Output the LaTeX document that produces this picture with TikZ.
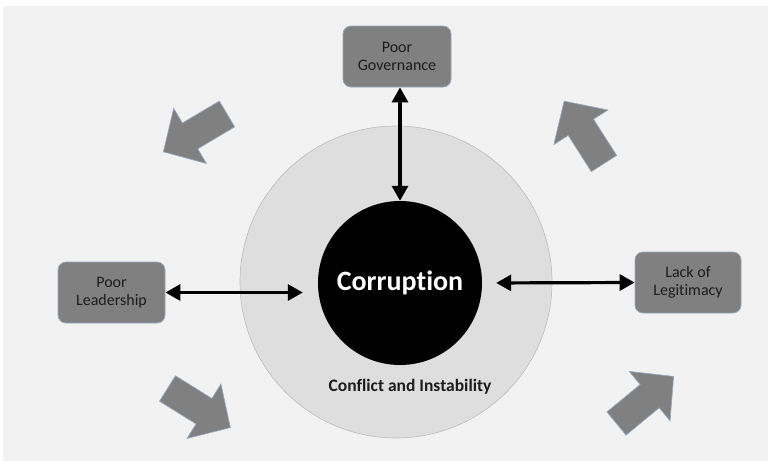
\documentclass[tikz,border=0pt]{standalone}
\usepackage{fontspec}
\setmainfont{Carlito}[Ligatures=NoCommon]
\usetikzlibrary{arrows.meta}
\definecolor{bgc}{HTML}{F2F2F2}
\definecolor{ringfill}{HTML}{DEDEDE}
\definecolor{ringline}{HTML}{BDBDBD}
\definecolor{boxfill}{HTML}{808080}
\definecolor{boxline}{HTML}{94A8BF}
\definecolor{boxtext}{HTML}{1C1C1C}
\tikzset{
  box/.style={draw=boxline, line width=0.8pt, fill=boxfill, rounded corners=8pt,
    minimum width=107pt, minimum height=61pt, align=center, text=boxtext,
    font=\fontsize{16}{18.5}\selectfont, inner sep=2pt},
  dbl/.style={line width=3.2pt, {Triangle[length=15pt,width=16pt]}-{Triangle[length=15pt,width=16pt]}},
  blockarr/.style={fill=boxfill, draw=boxline, line width=0.7pt, line join=miter}
}
\newcommand{\blockarrow}[2]{%
  \draw[blockarr, shift={(#1)}, rotate=#2]
    (0,-15) -- (43,-15) -- (43,-32) -- (74,0) -- (43,32) -- (43,15) -- (0,15) -- cycle;}
\begin{document}
\begin{tikzpicture}[x=1pt,y=-1pt]
\useasboundingbox (0,0) rectangle (768,461);
\fill[white] (0,0) rectangle (768,461);
\fill[bgc] (3,6) rectangle (768,461);
% rings
\node[circle, fill=ringfill, draw=ringline, line width=0.6pt, minimum size=312pt, inner sep=0pt] (ring) at (396,282) {};
\node[circle, fill=black, minimum size=164pt, inner sep=0pt, text=white,
  font=\fontsize{28}{30}\selectfont\bfseries] (core) at (400,283) {Corruption};
\node[font=\fontsize{17.5}{20}\selectfont\bfseries, text=boxtext] (cai) at (410,387) {Conflict and Instability};
% boxes
\node[box, minimum width=108pt] (gov) at (397,56.5) {Poor\\Governance};
\node[box] (lead) at (111.5,292.5) {Poor\\Leadership};
\node[box, minimum width=106pt] (legit) at (688,282.5) {Lack of\\Legitimacy};
% double arrows
\draw[dbl] (core.north |- gov.south) -- (core.north);
\draw[dbl, shorten >=15pt] (lead.east) -- (lead.east -| core.west);
\draw[dbl, shorten <=14pt] (core.east) -- (legit.west);
% block arrows (tail midpoint, angle)
\blockarrow{227,114}{210.7}
\blockarrow{604,163.5}{122.6}
\blockarrow{167.5,388.5}{-31.9}
\blockarrow{616.5,423.5}{39.5}
\end{tikzpicture}
\end{document}
